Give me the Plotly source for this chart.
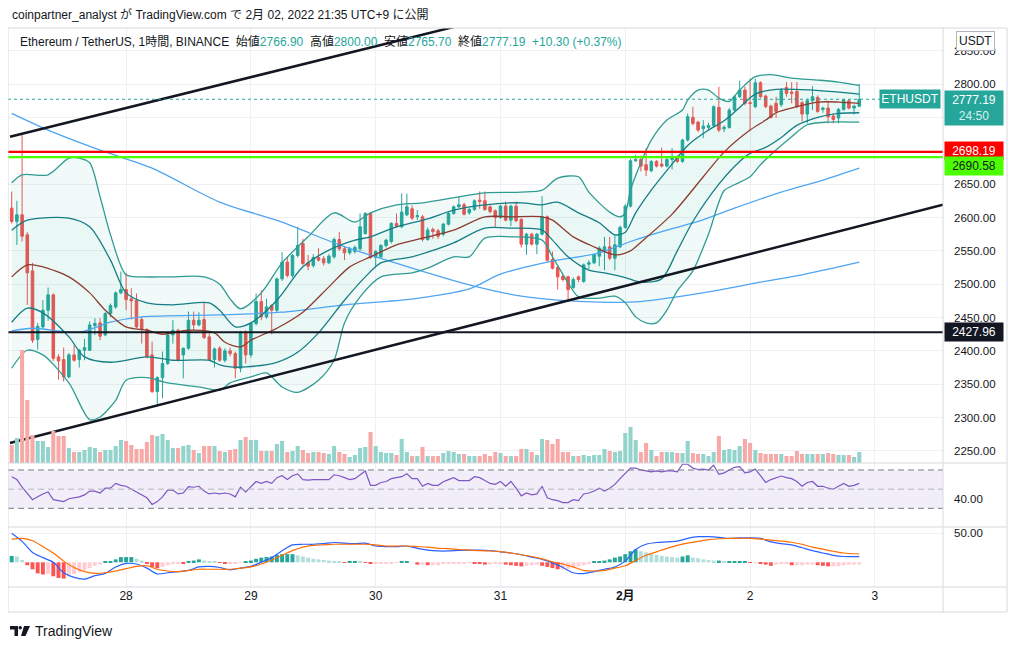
import numpy as np
import pandas as pd
import plotly.graph_objects as go

# ETH/USDT 1h candles, first candle = 2022-01-27 02:00 (UTC+9)
T0 = pd.Timestamp("2022-01-27 02:00")

opens = [2614, 2594, 2604, 2574, 2520, 2417, 2436, 2461, 2484, 2391,
         2387, 2361, 2394, 2387, 2401, 2401, 2438, 2442, 2424, 2456,
         2466, 2487, 2492, 2478, 2476, 2447, 2432, 2394, 2339, 2360,
         2381, 2424, 2431, 2394, 2404, 2446, 2439, 2447, 2421, 2387,
         2404, 2386, 2400, 2396, 2374, 2428, 2394, 2441, 2474, 2451,
         2468, 2461, 2508, 2533, 2513, 2543, 2561, 2532, 2528, 2540,
         2538, 2532, 2541, 2567, 2553, 2547, 2549, 2553, 2576, 2606,
         2540, 2541, 2558, 2564, 2591, 2586, 2604, 2613, 2601, 2601,
         2567, 2582, 2580, 2575, 2590, 2606, 2616, 2619, 2607, 2612,
         2626, 2625, 2616, 2610, 2600, 2617, 2596, 2617, 2597, 2560,
         2575, 2560, 2575, 2601, 2537, 2525, 2512, 2511, 2495, 2511,
         2504, 2530, 2532, 2542, 2550, 2556, 2539, 2556, 2585, 2617,
         2685, 2687, 2679, 2670, 2684, 2680, 2677, 2687, 2690, 2684,
         2716, 2750, 2743, 2733, 2735, 2738, 2765, 2733, 2735, 2761,
         2781, 2791, 2772, 2766, 2802, 2782, 2767, 2771, 2769, 2795,
         2788, 2789, 2772, 2755, 2775, 2780, 2762, 2764, 2752, 2749,
         2762, 2775, 2764, 2766.90]
highs = [2639, 2625, 2724, 2578, 2532, 2442, 2476, 2495, 2486, 2395,
         2405, 2397, 2409, 2403, 2418, 2444, 2449, 2449, 2458, 2471,
         2489, 2519, 2517, 2494, 2486, 2452, 2434, 2414, 2362, 2399,
         2426, 2446, 2433, 2405, 2459, 2459, 2458, 2472, 2426, 2405,
         2407, 2404, 2405, 2399, 2430, 2431, 2443, 2486, 2491, 2478,
         2470, 2510, 2548, 2541, 2545, 2586, 2568, 2544, 2545, 2554,
         2542, 2545, 2570, 2578, 2556, 2556, 2558, 2606, 2608, 2608,
         2551, 2560, 2568, 2593, 2606, 2636, 2636, 2618, 2611, 2604,
         2585, 2585, 2583, 2592, 2608, 2618, 2631, 2622, 2615, 2627,
         2639, 2639, 2618, 2612, 2619, 2624, 2619, 2624, 2599, 2577,
         2577, 2577, 2632, 2603, 2549, 2527, 2514, 2513, 2510, 2513,
         2531, 2536, 2546, 2557, 2571, 2571, 2573, 2588, 2620, 2688,
         2694, 2693, 2704, 2686, 2686, 2705, 2690, 2704, 2693, 2718,
         2756, 2766, 2745, 2746, 2742, 2768, 2796, 2738, 2764, 2783,
         2805, 2796, 2808, 2808, 2804, 2784, 2769, 2781, 2794, 2803,
         2803, 2803, 2775, 2778, 2797, 2783, 2766, 2775, 2756, 2764,
         2778, 2777, 2769, 2800.00]
lows = [2591, 2559, 2564, 2469, 2412, 2402, 2434, 2445, 2385, 2357,
        2354, 2359, 2384, 2375, 2386, 2400, 2424, 2416, 2422, 2451,
        2463, 2485, 2461, 2447, 2434, 2411, 2389, 2337, 2319, 2329,
        2379, 2411, 2384, 2359, 2402, 2431, 2437, 2418, 2385, 2375,
        2384, 2383, 2392, 2359, 2368, 2381, 2390, 2438, 2446, 2448,
        2425, 2458, 2505, 2510, 2510, 2540, 2528, 2521, 2525, 2534,
        2528, 2530, 2538, 2550, 2536, 2544, 2546, 2550, 2574, 2538,
        2526, 2539, 2555, 2561, 2585, 2584, 2602, 2596, 2596, 2564,
        2565, 2568, 2568, 2572, 2588, 2604, 2614, 2603, 2604, 2610,
        2613, 2610, 2606, 2586, 2598, 2594, 2587, 2593, 2555, 2544,
        2558, 2545, 2573, 2534, 2522, 2492, 2504, 2476, 2493, 2503,
        2502, 2523, 2530, 2527, 2521, 2536, 2521, 2554, 2583, 2615,
        2683, 2669, 2662, 2668, 2675, 2675, 2675, 2672, 2682, 2682,
        2714, 2738, 2728, 2719, 2730, 2736, 2728, 2728, 2733, 2759,
        2779, 2768, 2731, 2764, 2779, 2764, 2748, 2749, 2766, 2781,
        2771, 2764, 2744, 2741, 2761, 2757, 2757, 2741, 2741, 2741,
        2760, 2762, 2754, 2765.70]
closes = [2594, 2604, 2572, 2517, 2416, 2437, 2461, 2484, 2389, 2385,
          2361, 2394, 2386, 2401, 2405, 2439, 2441, 2422, 2456, 2468,
          2487, 2492, 2477, 2475, 2436, 2432, 2391, 2339, 2360, 2381,
          2424, 2431, 2386, 2404, 2446, 2439, 2446, 2420, 2387, 2403,
          2386, 2400, 2396, 2374, 2428, 2394, 2441, 2474, 2451, 2466,
          2461, 2508, 2533, 2513, 2543, 2558, 2531, 2527, 2540, 2536,
          2532, 2542, 2567, 2553, 2547, 2553, 2555, 2586, 2606, 2540,
          2549, 2558, 2566, 2591, 2587, 2608, 2616, 2599, 2603, 2567,
          2581, 2579, 2572, 2590, 2606, 2616, 2619, 2605, 2612, 2625,
          2624, 2612, 2609, 2600, 2617, 2596, 2617, 2595, 2560, 2575,
          2560, 2575, 2601, 2536, 2524, 2511, 2507, 2492, 2507, 2507,
          2529, 2532, 2544, 2554, 2556, 2539, 2559, 2585, 2617, 2685,
          2687, 2677, 2671, 2684, 2677, 2677, 2687, 2690, 2684, 2716,
          2751, 2741, 2731, 2737, 2738, 2766, 2731, 2735, 2761, 2781,
          2791, 2771, 2771, 2802, 2781, 2766, 2750, 2759, 2790, 2786,
          2786, 2766, 2755, 2775, 2781, 2759, 2764, 2751, 2747, 2762,
          2776, 2764, 2766.89, 2777.19]
# volume, thousand ETH
volume = [18, 25, 113, 63, 28, 22, 22, 16, 32, 27,
          27, 15, 11, 11, 13, 16, 15, 11, 13, 13,
          17, 23, 22, 18, 14, 14, 21, 28, 27, 29,
          23, 15, 15, 17, 18, 13, 10, 17, 17, 17,
          12, 11, 13, 14, 23, 26, 23, 23, 12, 12,
          12, 19, 22, 11, 12, 17, 13, 10, 11, 11,
          10, 9, 17, 11, 9, 6, 8, 15, 16, 31,
          17, 11, 10, 10, 8, 24, 11, 7, 7, 16,
          7, 7, 7, 10, 12, 11, 9, 9, 7, 7,
          7, 9, 7, 11, 10, 7, 7, 7, 14, 14,
          11, 8, 24, 23, 19, 24, 11, 11, 7, 7,
          8, 7, 8, 8, 14, 12, 11, 12, 30, 36,
          23, 11, 20, 13, 7, 11, 11, 11, 10, 10,
          22, 10, 9, 9, 7, 11, 27, 13, 14, 13,
          17, 24, 20, 13, 10, 9, 9, 9, 9, 7,
          7, 12, 9, 9, 9, 9, 9, 10, 9, 8,
          8, 8, 6, 11]
rsi = [63, 60, 52, 46, 39, 42, 45, 47, 39, 38,
       37, 40, 41, 42, 44, 48, 48, 46, 51, 51,
       56, 54, 53, 50, 47, 44, 41, 34, 37, 42,
       49, 49, 45, 46, 52.6, 52, 53, 48, 45, 46,
       45, 46, 45, 42, 52, 47, 53, 58, 56, 58,
       56, 62, 64, 60, 64, 66, 60, 59.5, 60, 60,
       59.5, 60, 65, 64, 62, 60, 61, 65, 69, 54,
       54, 57, 58, 61, 62, 63, 66, 61, 61, 53,
       56, 54, 54, 57.8, 60, 62, 59, 59, 59, 63,
       62, 59, 56, 55, 58, 53, 58, 51, 43, 46,
       44, 45, 53, 41, 39, 38, 36, 36, 39, 38,
       45, 46, 48, 51, 48, 51, 55, 61, 66, 72,
       72, 70, 69, 68, 69, 68, 69, 69, 68, 76,
       76, 72, 70.5, 71, 70, 75, 65.5, 67, 70, 72.8,
       73.5, 67, 68, 71, 64, 57, 60, 62, 63.7, 62,
       61, 58, 53, 57, 58, 53, 53, 51, 50, 53,
       56, 53, 54, 56]
macd_hist = [11, 10, 4, -5, -12, -19, -21, -20, -24, -27,
             -28, -23, -20, -17, -14, -10, -6, -4, 1, 2,
             5, 9, 9, 9, 6, 3, -3, -8, -10, -8,
             -5, -3, -2, -3, 1, 3, 5, 3, 2, 1,
             -1, -2, -2, -2, -1, 1, 3, 6, 8, 9,
             10, 13, 14, 14, 14, 12, 10, 8, 6, 5,
             4, 3, 2, 1, -1, 1, 2, 1, -1, -3,
             -3, -3, -2, -2, -1, 1, 1, 0, -4, -4,
             -5, -5, -5, -3, -3, -3, -2, -2, -1, -2,
             -3, -4, -4, -3, -3, -4, -5, -6, -7, -6,
             -5, -4, -6, -8, -10, -12, -12, -11, -9, -7,
             -5, -3, 1, 2, 3, 5, 8, 10, 14, 19,
             22, 19, 17, 15, 13, 11, 10, 9, 8, 10,
             12, 8, 7, 5, 4, 3, 3, 1, 1, 1,
             1, 1, -1, -1, -3, -4, -6, -4, -3, -3,
             -5, -5, -5, -4, -4, -5, -6, -7, -7, -7,
             -5, -4, -4, -4]

# indicator lines: (hours after T0, value)
bb_upper2 = [(0, 2652), (2, 2664), (7, 2664), (11, 2689), (13, 2689), (15, 2682), (17, 2631),
             (19, 2574), (22, 2514), (25, 2511), (30, 2511), (37, 2511), (40, 2500), (42, 2478),
             (44, 2463), (48, 2487), (52, 2532), (57, 2571), (62, 2607), (66, 2593), (69, 2607),
             (74, 2619), (79, 2622), (86, 2631), (91, 2637), (98, 2638), (102, 2641), (105, 2659),
             (109, 2661), (111, 2638), (115, 2608), (117, 2601), (118, 2607), (119, 2641),
             (121, 2682), (123, 2716), (126, 2746), (129, 2761), (130, 2776), (132, 2791),
             (134, 2791), (136, 2779), (138, 2774), (140, 2791), (143, 2811), (146, 2814),
             (150, 2809), (155, 2806), (159, 2803), (163, 2798)]
bb_upper1 = [(0, 2581), (3, 2596), (11, 2599), (15, 2586), (19, 2536), (22, 2487), (26, 2472),
             (31, 2469), (38, 2472), (40, 2461), (43, 2436), (46, 2442), (51, 2476), (56, 2526),
             (61, 2551), (66, 2566), (69, 2571), (74, 2586), (80, 2598), (85, 2611), (91, 2619),
             (98, 2622), (102, 2619), (105, 2623), (109, 2607), (113, 2592), (116, 2574),
             (118, 2578), (120, 2607), (123, 2641), (127, 2680), (130, 2708), (134, 2731),
             (137, 2745), (140, 2765), (143, 2785), (147, 2792), (154, 2791),
             (159, 2788), (163, 2785)]
bb_basis = [(0, 2511), (3, 2529), (6, 2526), (11, 2511), (15, 2487), (18, 2461), (22, 2436),
            (26, 2431), (29, 2425), (34, 2431), (39, 2427), (41, 2413), (44, 2406), (46, 2416),
            (51, 2434), (56, 2458), (61, 2496), (65, 2526), (69, 2541), (74, 2559), (79, 2569),
            (85, 2581), (91, 2601), (96, 2601), (102, 2601), (104, 2596), (108, 2571), (112, 2556),
            (116, 2544), (119, 2550), (121, 2563), (127, 2605), (133, 2661), (137, 2698),
            (142, 2731), (145, 2746), (147, 2757), (151, 2766),
            (155, 2773), (159, 2773), (163, 2771)]
bb_lower1 = [(0, 2443), (3, 2464), (6, 2457), (11, 2421), (14, 2391), (19, 2383), (26, 2391),
             (31, 2386), (38, 2386), (40, 2379), (42, 2376), (45, 2376), (51, 2383), (55, 2398),
             (59, 2427), (64, 2476), (68, 2511), (71, 2532), (77, 2541), (80, 2548), (85, 2562),
             (91, 2584), (96, 2584), (102, 2581), (104, 2566), (107, 2541), (111, 2521),
             (114, 2517), (118, 2510), (121, 2503), (125, 2508), (128, 2550), (131, 2594),
             (136, 2650), (140, 2684), (142, 2696), (145, 2705), (148, 2720),
             (151, 2738), (155, 2750), (159, 2756), (163, 2757)]
bb_lower2 = [(0, 2374), (3, 2401), (6, 2394), (11, 2352), (15, 2297), (17, 2301), (20, 2326),
             (22, 2356), (26, 2360), (30, 2352), (36, 2346), (40, 2341), (42, 2352), (46, 2361),
             (49, 2367), (52, 2346), (55, 2338), (59, 2356), (62, 2386), (64, 2442), (67, 2481),
             (71, 2511), (77, 2517), (80, 2524), (85, 2541), (88, 2541), (91, 2569), (96, 2571),
             (102, 2566), (104, 2541), (107, 2502), (109, 2481), (113, 2479), (116, 2482),
             (118, 2472), (120, 2451), (122, 2442), (124, 2442), (126, 2461), (128, 2490),
             (131, 2520), (134, 2575), (137, 2640), (139, 2649), (142, 2661), (144, 2679),
             (147, 2701), (150, 2721), (153, 2739), (157, 2743), (163, 2743)]
ma_long = [(0, 2756), (7, 2731), (17, 2701), (27, 2674), (40, 2623), (52, 2593), (63, 2559),
           (75, 2529), (88, 2499), (98, 2482), (105, 2476), (113, 2473), (121, 2474),
           (128, 2481), (136, 2491), (144, 2503), (152, 2514), (163, 2533)]
ma_short = [(0, 2430), (4, 2434), (13, 2428), (19, 2443), (25, 2451), (40, 2454), (52, 2458),
            (64, 2469), (75, 2476), (80, 2481), (88, 2493), (94, 2515), (103, 2533), (113, 2547),
            (119, 2564), (126, 2581), (132, 2594), (139, 2614), (148, 2638), (156, 2656),
            (163, 2674)]
macd_line = [(0, 50), (2, 36), (4, 17), (6, 8), (8, 0), (10, -18), (12, -26), (14, -29),
             (16, -23), (18, -19), (20, -8), (22, -2), (24, -3), (26, -10), (28, -20), (30, -18),
             (32, -16), (34, -14), (36, -8), (38, -7), (40, -9), (42, -13), (44, -10), (46, -7),
             (48, 0), (50, 8), (52, 20), (54, 30), (56, 31), (58, 31), (60, 32), (62, 34),
             (64, 33), (66, 32), (68, 33), (70, 28), (72, 27), (74, 27), (76, 28), (78, 24),
             (80, 21), (82, 19.5), (84, 19.5), (86, 20.5), (88, 21), (90, 21), (92, 20), (94, 18),
             (96, 16), (98, 13), (100, 9), (102, 5), (104, -1), (106, -9), (108, -18),
             (110, -19.5), (112, -16), (114, -12), (116, -8), (118, 2), (120, 22), (122, 31),
             (124, 34), (126, 35), (128, 36.5), (130, 41), (132, 44), (134, 44), (136, 43),
             (138, 41), (140, 42), (142, 42), (144, 41), (146, 35), (148, 32), (150, 30),
             (152, 25), (154, 20), (156, 16), (158, 12), (160, 10), (163, 9.7)]
macd_signal = [(0, 40), (2, 41), (4, 37), (6, 27), (8, 16), (10, 2), (12, -9), (14, -16),
               (16, -19), (18, -18), (20, -15), (22, -11), (24, -7), (26, -6), (28, -12),
               (30, -15), (32, -16), (34, -14), (36, -12), (38, -12), (40, -12), (42, -12),
               (44, -10), (46, -8), (48, -3), (50, 4), (52, 12), (54, 20), (56, 26), (58, 29),
               (60, 30), (62, 31), (64, 31), (66, 31), (68, 31), (70, 30), (72, 28), (74, 28),
               (76, 28), (78, 27), (80, 26), (82, 24), (84, 23.5), (86, 22), (88, 21), (90, 20),
               (92, 19.5), (94, 18.5), (96, 16), (98, 13), (100, 10), (102, 6), (104, 1),
               (106, -3), (108, -8), (110, -14), (112, -15), (114, -14), (116, -10), (118, -6),
               (120, 3), (122, 12), (124, 18), (126, 24), (128, 29), (130, 33), (132, 36),
               (134, 39), (136, 40.5), (138, 41), (140, 41.3), (142, 41.3), (144, 40), (146, 38),
               (148, 36.5), (150, 34.5), (152, 31), (154, 26), (156, 22.5), (158, 19), (160, 16),
               (163, 14.3)]

# chart drawings: trend channel and horizontal levels
trend_lower = [(-0.33, 2262), (179.1, 2619)]
trend_upper = [(-0.33, 2721), (179.1, 3067)]
level_red = 2698.19
level_green = 2690.58
level_black = 2427.96

# the page body has an 8px margin, so the figure is drawn 8px in from the window corner
OFF = 8
W, H = 1017 - 2 * OFF, 648 - 2 * OFF
UP, DN = "#26a69a", "#ef5350"
FONT = "Liberation Sans, Noto Sans CJK JP, sans-serif"


def at(h):
    return T0 + pd.to_timedelta(np.asarray(h, dtype=float), unit="h")


def px(x):
    return (x - OFF) / W


def py(y):
    return 1 - (y - OFF) / H


def unzip(pairs):
    h, v = zip(*pairs)
    return at(h), list(v)


times = at(np.arange(len(closes)))
rising = [c >= o for o, c in zip(opens, closes)]

fig = go.Figure()

# volume in the main pane
fig.add_trace(go.Bar(
    x=times, y=volume, xaxis="x", yaxis="y2", width=3600000 * 0.78,
    marker=dict(color=["#92d3cc" if r else "#f7a9a7" for r in rising], line_width=0),
    hoverinfo="skip"))

# Bollinger fills
for up, dn, a in [(bb_upper2, bb_lower2, 0.06), (bb_upper1, bb_lower1, 0.04)]:
    ux, uy = unzip(up)
    dx, dy = unzip(dn)
    fig.add_trace(go.Scatter(
        x=list(ux) + list(dx)[::-1], y=uy + dy[::-1], fill="toself",
        fillcolor=f"rgba(38,166,154,{a})", line=dict(width=0, shape="spline", smoothing=0.6),
        mode="lines", xaxis="x", yaxis="y", hoverinfo="skip"))

for series, color in [(ma_long, "#4ea5f2"), (ma_short, "#4ea5f2"),
                      (bb_upper2, "#2f9c92"), (bb_lower2, "#2f9c92"),
                      (bb_upper1, "#157e84"), (bb_lower1, "#157e84"),
                      (bb_basis, "#8e3b30")]:
    sx, sy = unzip(series)
    fig.add_trace(go.Scatter(x=sx, y=sy, mode="lines", xaxis="x", yaxis="y",
                             line=dict(color=color, width=1.3, shape="spline", smoothing=0.8),
                             hoverinfo="skip"))

for line in (trend_lower, trend_upper):
    lx, ly = unzip(line)
    fig.add_trace(go.Scatter(x=lx, y=ly, mode="lines", xaxis="x", yaxis="y",
                             line=dict(color="#131722", width=2.5), hoverinfo="skip"))

fig.add_trace(go.Candlestick(
    x=times, open=opens, high=highs, low=lows, close=closes, xaxis="x", yaxis="y",
    increasing=dict(line=dict(color=UP, width=1), fillcolor=UP),
    decreasing=dict(line=dict(color=DN, width=1), fillcolor=DN),
    whiskerwidth=0, hoverinfo="skip"))

# RSI pane
fig.add_trace(go.Scatter(x=times, y=rsi, mode="lines", xaxis="x2", yaxis="y3",
                         line=dict(color="#7e57c2", width=1.2), hoverinfo="skip"))

# MACD pane
hist_colors = []
for i, v in enumerate(macd_hist):
    prev = macd_hist[i - 1] if i else v
    if v >= 0:
        hist_colors.append("#26a69a" if v >= prev else "#b2dfdb")
    else:
        hist_colors.append("#ff5252" if v < prev else "#ffcdd2")
fig.add_trace(go.Bar(x=times, y=macd_hist, xaxis="x3", yaxis="y4", width=3600000 * 0.75,
                     marker=dict(color=hist_colors, line_width=0), hoverinfo="skip"))
for series, color in [(macd_line, "#2962ff"), (macd_signal, "#ff6d00")]:
    sx, sy = unzip(series)
    fig.add_trace(go.Scatter(x=sx, y=sy, mode="lines", xaxis="x3", yaxis="y4",
                             line=dict(color=color, width=1.2, shape="spline", smoothing=0.8),
                             hoverinfo="skip"))

x_range = [at(-0.71), at(179.1)]
day_ticks = pd.to_datetime(["2022-01-28", "2022-01-29", "2022-01-30", "2022-01-31",
                            "2022-02-01", "2022-02-02", "2022-02-03"])
day_text = ["28", "29", "30", "31", "<b>2月</b>", "2", "3"]
grid = "#eef0f4"
xcommon = dict(domain=[px(8), px(943)], range=x_range, type="date", tickvals=day_ticks,
               ticktext=day_text, showgrid=True, gridcolor=grid, zeroline=False,
               showline=False, ticks="")
ycommon = dict(side="right", showgrid=True, gridcolor=grid, zeroline=False, ticks="",
               tickfont=dict(size=11.5, color="#131722", family=FONT), ticklabelstandoff=10)

# 2700 and 2750 sit under the price tags on the axis, so only their grid lines are drawn
price_ticks = [v for v in range(2250, 2851, 50) if v not in (2700, 2750)]
fig.update_layout(
    width=W, height=H, margin=dict(l=0, r=0, t=0, b=0), autosize=False,
    paper_bgcolor="white", plot_bgcolor="white", showlegend=False,
    font=dict(family=FONT, color="#131722"),
    xaxis=dict(xcommon, anchor="y", showticklabels=False, rangeslider=dict(visible=False)),
    xaxis2=dict(xcommon, anchor="y3", matches="x", showticklabels=False),
    xaxis3=dict(xcommon, anchor="y4", matches="x", showticklabels=True,
                tickfont=dict(size=12, color="#131722", family=FONT)),
    yaxis=dict(ycommon, domain=[py(463), py(28)], anchor="x", range=[2232, 2884],
               tickvals=price_ticks, ticktext=[f"{v:.2f}" for v in price_ticks]),
    yaxis2=dict(overlaying="y", anchor="x", range=[0, 435], visible=False),
    yaxis3=dict(ycommon, domain=[py(527), py(463)], anchor="x2", range=[10.5, 77.3],
                tickvals=[40], ticktext=["40.00"]),
    yaxis4=dict(ycommon, domain=[py(587), py(527)], anchor="x3", range=[-42.5, 60.7],
                tickvals=[50], ticktext=["50.00"]),
)

shapes = []
for lvl in (2700, 2750):
    shapes.append(dict(type="line", xref="paper", yref="y", x0=px(8), x1=px(943), y0=lvl, y1=lvl,
                       line=dict(color=grid, width=1), layer="below"))
# RSI band
shapes.append(dict(type="rect", xref="paper", yref="y3", x0=px(8), x1=px(943), y0=30, y1=70,
                   fillcolor="rgba(126,87,194,0.10)", line_width=0, layer="below"))
for lvl, col in [(70, "#787b86"), (50, "#b2b5be"), (30, "#787b86")]:
    shapes.append(dict(type="line", xref="paper", yref="y3", x0=px(8), x1=px(943), y0=lvl, y1=lvl,
                       line=dict(color=col, width=1, dash="6px,4px")))
# price levels
for lvl, col in [(level_red, "#ff0000"), (level_green, "#4cff00"), (level_black, "#131722")]:
    shapes.append(dict(type="line", xref="paper", yref="y", x0=px(8), x1=px(943), y0=lvl, y1=lvl,
                       line=dict(color=col, width=2.2)))
shapes.append(dict(type="line", xref="paper", yref="y", x0=px(8), x1=px(880),
                   y0=closes[-1], y1=closes[-1], line=dict(color=UP, width=1, dash="dot")))
# frame and pane separators
frame = "#d6d9e0"
for x in (8, 943, 1007):
    shapes.append(dict(type="line", xref="paper", yref="paper", x0=px(x), x1=px(x),
                       y0=py(28), y1=py(612), line=dict(color=frame, width=1)))
for y in (28, 463, 527, 587, 612):
    shapes.append(dict(type="line", xref="paper", yref="paper", x0=px(8), x1=px(1007),
                       y0=py(y), y1=py(y), line=dict(color=frame, width=1)))
# TradingView logo mark
ink = "#131722"
shapes.append(dict(type="path", xref="paper", yref="paper", fillcolor=ink, line_width=0,
                   path=f"M{px(10)},{py(626)} L{px(18)},{py(626)} L{px(18)},{py(636)} "
                        f"L{px(14.5)},{py(636)} L{px(14.5)},{py(629.5)} L{px(10)},{py(629.5)} Z"))
shapes.append(dict(type="circle", xref="paper", yref="paper", fillcolor=ink, line_width=0,
                   x0=px(18.5), x1=px(22), y0=py(629.5), y1=py(626)))
shapes.append(dict(type="path", xref="paper", yref="paper", fillcolor=ink, line_width=0,
                   path=f"M{px(24)},{py(626)} L{px(30)},{py(626)} L{px(25.5)},{py(636)} "
                        f"L{px(21)},{py(636)} Z"))
fig.update_layout(shapes=shapes)

o, hi, lo, c = opens[-1], highs[-1], lows[-1], closes[-1]
chg = c - closes[-2]
pct = chg / closes[-2] * 100
sp = "\u00a0\u00a0"


def val(v):
    return f"<span style='color:{UP}'>{v}</span>"


header = ("Ethereum / TetherUS, 1時間, BINANCE" + sp + "始値" + val(f"{o:.2f}") + sp +
          "高値" + val(f"{hi:.2f}") + sp + "安値" + val(f"{lo:.2f}") + sp +
          "終値" + val(f"{c:.2f}") + sp + val(f"{chg:+.2f} ({pct:+.2f}%)"))

ann = [
    dict(text="coinpartner_analyst が TradingView.com で 2月 02, 2022 21:35 UTC+9 に公開",
         x=px(10), y=py(14), xanchor="left", yanchor="middle", font=dict(size=12)),
    dict(text=header, x=px(18), y=py(41), xanchor="left", yanchor="middle", font=dict(size=12)),
    dict(text="USDT", x=px(975), y=py(41), xanchor="center", yanchor="middle",
         bgcolor="white", bordercolor="#b2b5be", borderwidth=1, borderpad=2, font=dict(size=12)),
    dict(text="TradingView", x=px(33), y=py(631), xanchor="left", yanchor="middle",
         font=dict(size=14, color=ink)),
]
for a in ann:
    a.update(xref="paper", yref="paper", showarrow=False)


def tag(text, price, bg, fg, shift=0, yanchor="middle"):
    return dict(text=text, x=px(944), y=price, xref="paper", yref="y", xanchor="left",
                yanchor=yanchor, yshift=shift, showarrow=False, bgcolor=bg, width=54,
                align="center", borderpad=2, font=dict(size=12, color=fg))


ann.append(tag(f"{c:.2f}<br><span style='color:#d7f0ed'>24:50</span>", c, UP, "white",
               shift=9, yanchor="top"))
ann.append(tag(f"{level_red:.2f}", level_red, "#ff0000", "white", shift=1))
ann.append(tag(f"{level_green:.2f}", level_green, "#4cff00", ink, shift=-9))
ann.append(tag(f"{level_black:.2f}", level_black, ink, "white"))
ann.append(dict(text="ETHUSDT", x=px(941), y=c, xref="paper", yref="y", xanchor="right",
                yanchor="middle", showarrow=False, bgcolor=UP, borderpad=2,
                font=dict(size=12, color="white"), width=56))
fig.update_layout(annotations=ann)

fig.write_html("out.html")
